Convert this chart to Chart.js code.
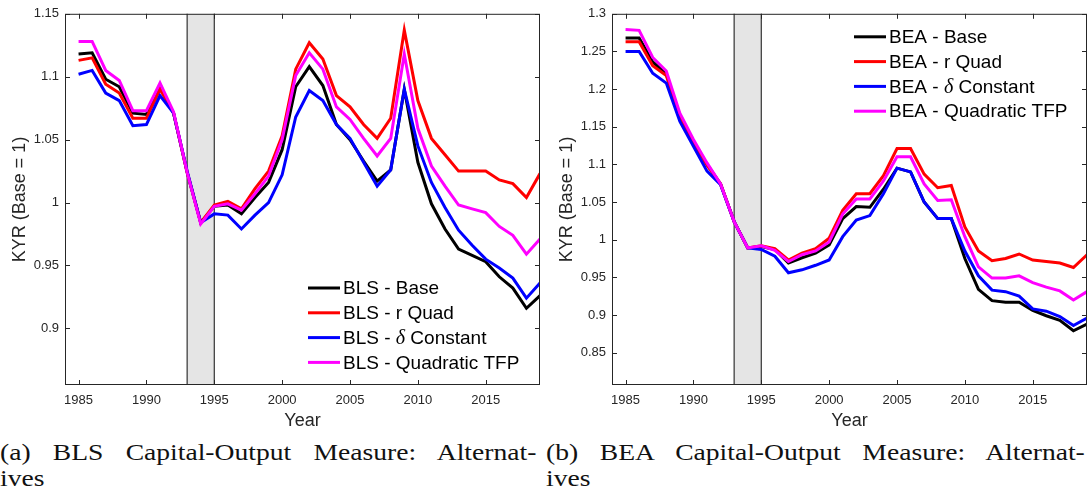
<!DOCTYPE html>
<html>
<head>
<meta charset="utf-8">
<script src="https://cdn.jsdelivr.net/npm/chart.js@4.4.1/dist/chart.umd.min.js"></script>
<style>
  html, body { margin: 0; padding: 0; background: #fff; }
  body { width: 1088px; height: 500px; position: relative; overflow: hidden; }
  canvas { position: absolute; top: 0; }
  #cA { left: 0; }
  #cB { left: 545px; }
  .cap { position: absolute; top: 440px; font-family: "Liberation Serif", "Times New Roman", serif;
         font-size: 23px; line-height: 26px; color: #111;
         transform: scaleX(1.2); transform-origin: 0 0; }
  .cap .l1 { text-align: justify; text-align-last: justify; white-space: nowrap; }
  #capA { left: 0; width: 447px; }
  #capB { left: 546px; width: 449px; }
</style>
</head>
<body>
<canvas id="cA" width="545" height="440"></canvas>
<canvas id="cB" width="543" height="440"></canvas>
<div class="cap" id="capA"><div class="l1">(a) BLS Capital-Output Measure: Alternat-</div><div>ives</div></div>
<div class="cap" id="capB"><div class="l1">(b) BEA Capital-Output Measure: Alternat-</div><div>ives</div></div>
<script>
// ---- data -------------------------------------------------------------
const years = [1985, 1986, 1987, 1988, 1989, 1990, 1991, 1992, 1993, 1994,
               1995, 1996, 1997, 1998, 1999, 2000, 2001, 2002, 2003, 2004,
               2005, 2006, 2007, 2008, 2009, 2010, 2011, 2012, 2013, 2014,
               2015, 2016, 2017, 2018, 2019];

const xTicks = [1985, 1990, 1995, 2000, 2005, 2010, 2015];
const blsYTicks = [0.9, 0.95, 1, 1.05, 1.1, 1.15];
const beaYTicks = [0.85, 0.9, 0.95, 1, 1.05, 1.1, 1.15, 1.2, 1.25, 1.3];
const shadedYears = [1993, 1995];

const blsLabels = ['BLS - Base', 'BLS - r Quad', 'BLS - δ Constant', 'BLS - Quadratic TFP'];
const beaLabels = ['BEA - Base', 'BEA - r Quad', 'BEA - δ Constant', 'BEA - Quadratic TFP'];
const seriesColors = ['#000000', '#ff0000', '#0000ff', '#ff00ff'];

const blsBase = [1.118, 1.119, 1.098, 1.092, 1.071, 1.070, 1.093, 1.071, 1.024, 0.984,
                 0.997, 0.998, 0.991, 1.004, 1.016, 1.042, 1.092, 1.108, 1.093, 1.062,
                 1.050, 1.033, 1.017, 1.026, 1.090, 1.032, 0.999, 0.979, 0.963, 0.958,
                 0.953, 0.941, 0.932, 0.916, 0.926];
const blsRQuad = [1.113, 1.115, 1.094, 1.087, 1.067, 1.067, 1.090, 1.071, 1.024, 0.984,
                  0.998, 1.001, 0.995, 1.011, 1.025, 1.053, 1.106, 1.127, 1.114, 1.085,
                  1.076, 1.062, 1.051, 1.067, 1.137, 1.081, 1.051, 1.038, 1.025, 1.025,
                  1.025, 1.018, 1.015, 1.004, 1.023];
const blsDeltaConst = [1.102, 1.105, 1.087, 1.081, 1.061, 1.062, 1.085, 1.071, 1.025, 0.984,
                       0.991, 0.990, 0.979, 0.990, 1.000, 1.022, 1.068, 1.089, 1.081, 1.062,
                       1.051, 1.032, 1.013, 1.026, 1.090, 1.045, 1.016, 0.996, 0.978, 0.966,
                       0.955, 0.948, 0.940, 0.924, 0.936];
const blsQuadTFP = [1.128, 1.128, 1.105, 1.097, 1.073, 1.073, 1.095, 1.072, 1.024, 0.983,
                    0.997, 0.999, 0.994, 1.007, 1.021, 1.050, 1.101, 1.119, 1.106, 1.076,
                    1.066, 1.051, 1.037, 1.051, 1.118, 1.059, 1.029, 1.013, 0.998, 0.995,
                    0.992, 0.981, 0.974, 0.959, 0.971];

const beaBase = [1.268, 1.268, 1.236, 1.220, 1.165, 1.130, 1.100, 1.074, 1.024, 0.989,
                 0.991, 0.987, 0.969, 0.976, 0.982, 0.993, 1.028, 1.044, 1.043, 1.067,
                 1.095, 1.090, 1.050, 1.028, 1.028, 0.975, 0.934, 0.919, 0.917, 0.917,
                 0.906, 0.899, 0.893, 0.879, 0.888];
const beaRQuad = [1.263, 1.263, 1.231, 1.218, 1.163, 1.129, 1.099, 1.074, 1.024, 0.989,
                  0.992, 0.988, 0.973, 0.982, 0.988, 1.002, 1.039, 1.061, 1.061, 1.085,
                  1.121, 1.121, 1.087, 1.069, 1.072, 1.017, 0.985, 0.972, 0.975, 0.981,
                  0.973, 0.971, 0.969, 0.963, 0.980];
const beaDeltaConst = [1.250, 1.250, 1.221, 1.208, 1.157, 1.124, 1.091, 1.073, 1.024, 0.989,
                       0.987, 0.978, 0.956, 0.960, 0.966, 0.973, 1.004, 1.026, 1.032, 1.061,
                       1.095, 1.090, 1.050, 1.028, 1.028, 0.985, 0.952, 0.933, 0.931, 0.925,
                       0.908, 0.905, 0.898, 0.886, 0.896];
const beaQuadTFP = [1.279, 1.278, 1.242, 1.224, 1.168, 1.133, 1.102, 1.074, 1.024, 0.989,
                    0.992, 0.986, 0.971, 0.980, 0.985, 0.997, 1.034, 1.054, 1.054, 1.078,
                    1.110, 1.110, 1.074, 1.052, 1.053, 1.004, 0.964, 0.949, 0.949, 0.952,
                    0.943, 0.937, 0.932, 0.920, 0.931];

// ---- drawing helpers --------------------------------------------------
const INK = '#262626';
const SANS = '"Liberation Sans", Arial, Helvetica, sans-serif';
Chart.defaults.font.family = SANS;
Chart.defaults.color = INK;

function fmtTick(v) { return String(Number(v.toFixed(2))); }

function makeDatasets(labels, series) {
  // later series sit on top of earlier ones
  return series.map((arr, i) => ({
    label: labels[i],
    data: years.map((yr, k) => ({ x: yr, y: arr[k] })),
    borderColor: seriesColors[i],
    backgroundColor: seriesColors[i],
    borderWidth: 3,
    pointRadius: 0,
    tension: 0,
    fill: false,
    order: series.length - i
  }));
}

function drawLegendLabel(ctx, text, x, y) {
  const parts = text.split('δ');
  ctx.font = '19px ' + SANS;
  ctx.fillText(parts[0], x, y);
  let cx = x + ctx.measureText(parts[0]).width;
  if (parts.length > 1) {
    ctx.font = 'italic 20px "Liberation Serif", "Times New Roman", serif';
    ctx.fillText('δ', cx, y);
    cx += ctx.measureText('δ').width;
    ctx.font = '19px ' + SANS;
    ctx.fillText(parts[1], cx, y);
  }
}

function framePlugin(cfg) {
  return {
    id: 'frame',
    beforeDatasetsDraw(chart) {
      const { ctx, chartArea: a, scales: { x } } = chart;
      const x0 = x.getPixelForValue(shadedYears[0]);
      const x1 = x.getPixelForValue(shadedYears[1]);
      ctx.save();
      ctx.fillStyle = '#e5e5e5';
      ctx.fillRect(x0, a.top, x1 - x0, a.bottom - a.top);
      ctx.strokeStyle = '#333';
      ctx.lineWidth = 1.2;
      ctx.beginPath();
      ctx.moveTo(x0, a.top); ctx.lineTo(x0, a.bottom);
      ctx.moveTo(x1, a.top); ctx.lineTo(x1, a.bottom);
      ctx.stroke();
      ctx.restore();
    },
    afterDraw(chart) {
      const { ctx, chartArea: a, scales: { x, y } } = chart;
      ctx.save();
      // axes box
      ctx.strokeStyle = INK;
      ctx.lineWidth = 1;
      ctx.strokeRect(a.left + 0.5, a.top + 0.5, a.right - a.left - 1, a.bottom - a.top - 1);
      // inward tick marks on all four sides
      const tl = 5;
      ctx.beginPath();
      x.ticks.forEach(t => {
        const px = Math.round(x.getPixelForValue(t.value)) + 0.5;
        ctx.moveTo(px, a.bottom); ctx.lineTo(px, a.bottom - tl);
        ctx.moveTo(px, a.top); ctx.lineTo(px, a.top + tl);
      });
      y.ticks.forEach(t => {
        const py = Math.round(y.getPixelForValue(t.value)) + 0.5;
        ctx.moveTo(a.left, py); ctx.lineTo(a.left + tl, py);
        ctx.moveTo(a.right, py); ctx.lineTo(a.right - tl, py);
      });
      ctx.stroke();
      // axis titles
      ctx.fillStyle = INK;
      ctx.font = '18px ' + SANS;
      ctx.textAlign = 'center';
      ctx.textBaseline = 'middle';
      ctx.fillText('Year', (a.left + a.right) / 2, 421);
      ctx.save();
      ctx.translate(cfg.yTitleX, (a.top + a.bottom) / 2);
      ctx.rotate(-Math.PI / 2);
      ctx.fillText('KYR (Base = 1)', 0, 0);
      ctx.restore();
      // legend
      const lx = a.right - cfg.legendRight;
      const ly = cfg.legendBottom ? a.bottom - cfg.legendTop : a.top + cfg.legendTop;
      ctx.textAlign = 'left';
      ctx.textBaseline = 'middle';
      chart.data.datasets.forEach((ds, i) => {
        const ry = ly + i * 24.8;
        ctx.strokeStyle = ds.borderColor;
        ctx.lineWidth = 3;
        ctx.beginPath();
        ctx.moveTo(lx, ry); ctx.lineTo(lx + 32, ry);
        ctx.stroke();
        ctx.fillStyle = '#000';
        drawLegendLabel(ctx, ds.label, lx + 35, ry + 1);
      });
      ctx.restore();
    }
  };
}

function makeChart(id, labels, series, yMin, yMax, yTicks, pad, cfg) {
  return new Chart(document.getElementById(id), {
    type: 'line',
    data: { datasets: makeDatasets(labels, series) },
    options: {
      responsive: false,
      animation: false,
      devicePixelRatio: 1,
      layout: { padding: pad },
      plugins: { legend: { display: false }, tooltip: { enabled: false } },
      scales: {
        x: {
          type: 'linear', min: 1984, max: 2019,
          afterBuildTicks: s => { s.ticks = xTicks.map(v => ({ value: v })); },
          afterFit: s => { s.height = 55; },
          grid: { display: false, drawTicks: false },
          border: { display: false },
          ticks: { padding: 8, font: { size: 13 }, color: INK, maxRotation: 0,
                   callback: v => String(v) }
        },
        y: {
          type: 'linear', min: yMin, max: yMax,
          afterBuildTicks: s => { s.ticks = yTicks.map(v => ({ value: v })); },
          afterFit: s => { s.width = cfg.yWidth; },
          grid: { display: false, drawTicks: false },
          border: { display: false },
          ticks: { padding: 6, font: { size: 13 }, color: INK, callback: v => fmtTick(v) }
        }
      }
    },
    plugins: [framePlugin(cfg)]
  });
}

makeChart('cA', blsLabels, [blsBase, blsRQuad, blsDeltaConst, blsQuadTFP],
  0.855, 1.15, blsYTicks, { left: 0, top: 9, right: 5, bottom: 0 },
  { yWidth: 65, yTitleX: 20, legendRight: 232, legendBottom: true, legendTop: 97 });

makeChart('cB', beaLabels, [beaBase, beaRQuad, beaDeltaConst, beaQuadTFP],
  0.807, 1.3, beaYTicks, { left: 0, top: 10, right: 1, bottom: 0 },
  { yWidth: 67, yTitleX: 22, legendRight: 233, legendBottom: false, legendTop: 23 });
</script>
</body>
</html>
